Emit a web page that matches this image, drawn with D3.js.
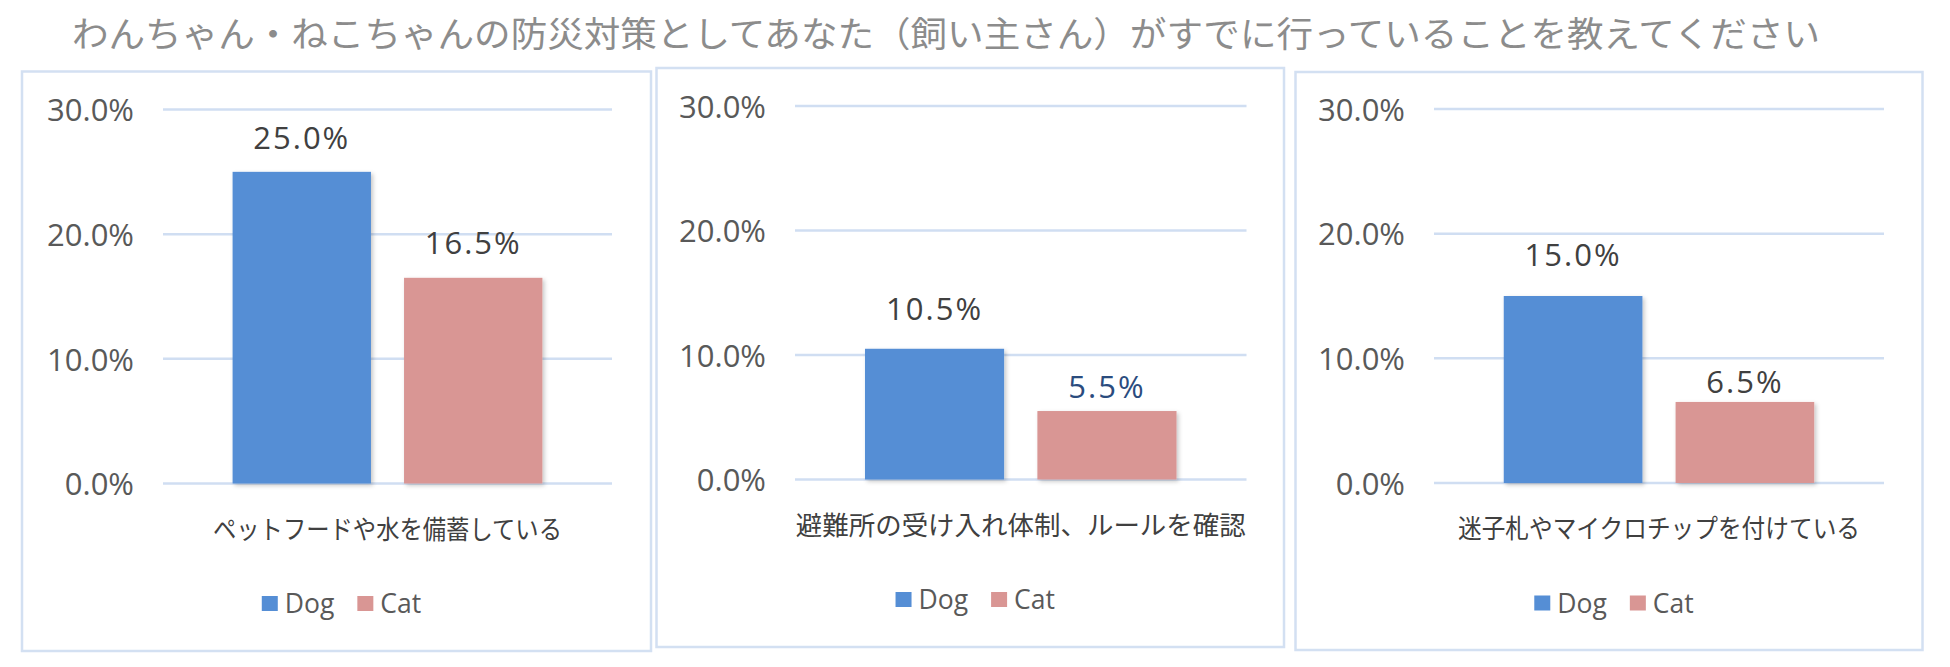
<!DOCTYPE html>
<html><head><meta charset="utf-8">
<script src="https://cdn.jsdelivr.net/npm/d3@7"></script>
<style>
html,body{margin:0;padding:0;background:#fff;}
svg{display:block;}
</style></head>
<body>
<svg id="chart" width="1950" height="667"></svg>
<script>
// ---- data ----
const chartTitle = "わんちゃん・ねこちゃんの防災対策としてあなた（飼い主さん）がすでに行っていることを教えてください";
const categories = ["ペットフードや水を備蓄している", "避難所の受け入れ体制、ルールを確認", "迷子札やマイクロチップを付けている"];
const seriesNames = ["Dog", "Cat"];
const dogValues = [25.0, 10.5, 15.0];
const catValues = [16.5, 5.5, 6.5];
const yTicks = [0, 10, 20, 30];

// ---- layout (positions / styles) ----
const panels = [
  {box:[22, 71.5, 651, 651], plot:[163, 612, 109.5, 483.5], catW:349, gaps:[23, 24]},
  {box:[656.5, 68, 1284, 647], plot:[795, 1246.5, 106, 479.5], catW:450, gaps:[29, 13]},
  {box:[1295.5, 72, 1922.5, 650], plot:[1434, 1884, 109, 483], catW:402, gaps:[30.5, 8.5]}
];
const colors = {Dog:"#558ed5", Cat:"#d99694"};
const labelColors = [["#404040","#404040"],["#404040","#2b4c7e"],["#404040","#404040"]];
const numFont = "'Open Sans', 'Noto Sans CJK JP', sans-serif";
const jpFont = "'Noto Sans CJK JP', sans-serif";

const svg = d3.select("#chart");
const defs = svg.append("defs");
const f = defs.append("filter").attr("id","shadow").attr("x","-10%").attr("y","-10%").attr("width","130%").attr("height","130%");
f.append("feDropShadow").attr("dx",2).attr("dy",2).attr("stdDeviation",2).attr("flood-color","#000").attr("flood-opacity",0.22);

// title
svg.append("text")
  .attr("x", 72).attr("y", 47)
  .attr("font-family", jpFont).attr("font-size", 35)
  .attr("fill", "#8c8c8c")
  .attr("textLength", 1748).attr("lengthAdjust", "spacingAndGlyphs")
  .text(chartTitle);

categories.forEach((cat, i) => {
  const p = panels[i];
  const g = svg.append("g");
  const [bx0, by0, bx1, by1] = p.box;
  g.append("rect").attr("x", bx0).attr("y", by0).attr("width", bx1 - bx0).attr("height", by1 - by0)
    .attr("fill", "#fff").attr("stroke", "#d3e0f2").attr("stroke-width", 2.5);

  const [px0, px1, pyTop, pyBot] = p.plot;
  const y = d3.scaleLinear().domain([0, 30]).range([pyBot, pyTop]);
  const outer = (px1 - px0) * 0.155;
  const x = d3.scaleBand().domain(seriesNames).range([px0 + outer, px1 - outer]).paddingInner(0.193);

  // gridlines
  g.selectAll("line.grid").data(yTicks).enter().append("line")
    .attr("x1", px0).attr("x2", px1)
    .attr("y1", d => y(d)).attr("y2", d => y(d))
    .attr("stroke", "#d0def2").attr("stroke-width", 2.5);

  // y axis labels via d3 axis
  const axis = d3.axisLeft(y).tickValues(yTicks).tickSize(0).tickPadding(0)
    .tickFormat(d => d3.format(".1f")(d) + "%");
  const ag = g.append("g").attr("transform", `translate(${px0 - 29},0)`).call(axis);
  ag.select(".domain").remove();
  ag.selectAll("text").attr("font-family", numFont).attr("font-size", 31)
    .attr("fill", "#595959").attr("dy", "0.36em");

  const vals = [dogValues[i], catValues[i]];
  const bars = seriesNames.map((s, k) => ({s, v: vals[k], k}));

  g.selectAll("rect.bar").data(bars).enter().append("rect")
    .attr("x", d => x(d.s)).attr("width", x.bandwidth())
    .attr("y", d => y(d.v)).attr("height", d => y(0) - y(d.v))
    .attr("fill", d => colors[d.s]).attr("filter", "url(#shadow)");

  g.selectAll("text.val").data(bars).enter().append("text")
    .attr("x", d => x(d.s) + x.bandwidth() / 2)
    .attr("y", d => y(d.v) - p.gaps[d.k])
    .attr("text-anchor", "middle")
    .attr("font-family", numFont).attr("font-size", 31).attr("letter-spacing", 2)
    .attr("fill", d => labelColors[i][d.k])
    .text(d => d3.format(".1f")(d.v) + "%");

  // category label
  g.append("text")
    .attr("x", (px0 + px1) / 2).attr("y", y(0) + 55)
    .attr("text-anchor", "middle")
    .attr("font-family", jpFont).attr("font-size", 26).attr("fill", "#404040")
    .attr("textLength", p.catW).attr("lengthAdjust", "spacingAndGlyphs")
    .text(cat);

  // legend
  const ly = y(0) + 120;
  const lg = g.append("g");
  let cx = 0;
  const items = [];
  seriesNames.forEach((s, k) => {
    const it = lg.append("g").attr("transform", `translate(${cx},0)`);
    it.append("rect").attr("x", 0).attr("y", ly - 7.5).attr("width", 16).attr("height", 15).attr("fill", colors[s]);
    const t = it.append("text").attr("x", 23).attr("y", ly + 9.5)
      .attr("font-family", numFont).attr("font-size", 26.5).attr("fill", "#595959").text(s);
    const w = t.node().getComputedTextLength();
    cx += 23 + w + 23;
  });
  const totalW = cx - 23;
  lg.attr("transform", `translate(${(bx0 + bx1) / 2 + 5 - totalW / 2},0)`);
});
</script>
</body></html>
